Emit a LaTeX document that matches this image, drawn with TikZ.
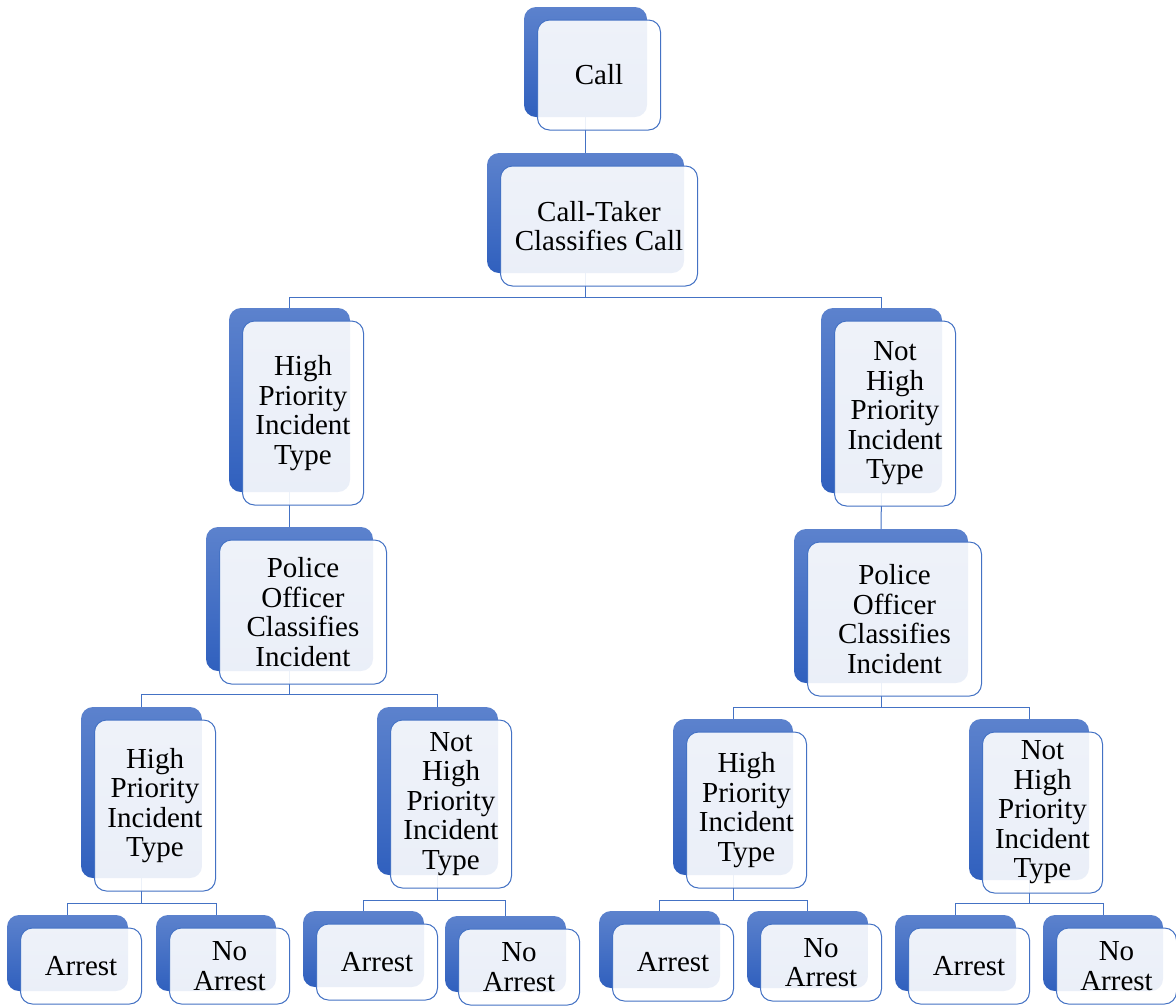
\documentclass[tikz,border=0pt]{standalone}
\usepackage{fontspec}
\setmainfont{Liberation Serif}
\usetikzlibrary{calc}
\definecolor{acc}{HTML}{4472C4}
\definecolor{gtop}{HTML}{5C82CD}
\definecolor{gbot}{HTML}{3060BE}
\tikzset{
  backbox/.style={rectangle, rounded corners=12pt, draw=none, top color=gtop, bottom color=gbot, inner sep=0pt},
  frontbox/.style={rectangle, rounded corners=12pt, draw=acc, line width=1pt, fill=white, fill opacity=0.9, text opacity=1, text=black, inner sep=0pt, align=center, font=\fontsize{29}{29.5}\selectfont},
  conn/.style={draw=acc, line width=1pt}
}
% \backnode{name}{cx}{cy}{w}{h}
\newcommand{\backnode}[5]{%
  \node[backbox, minimum width=#4pt, minimum height=#5pt] (b#1) at (#2,#3) {};%
}
% \frontnode{name}{w}{h}{text}
\newcommand{\frontnode}[4]{%
  \node[frontbox, minimum width=#2pt, minimum height=#3pt] (f#1) at ($(b#1.center)+(13.5,13)$) {#4};%
}
\begin{document}
\begin{tikzpicture}[x=1pt, y=-1pt]
\useasboundingbox (0,0) rectangle (1176,1005);
% back boxes
\backnode{call}{585.5}{62}{123}{110}
\backnode{ct}{585.5}{213}{197}{120}
\backnode{hl}{289.5}{400}{121}{184}
\backnode{nr}{881.5}{400.5}{121}{185}
\backnode{pl}{289.5}{599}{167}{144}
\backnode{pr}{881}{606}{174}{154}
\backnode{hll}{141.5}{792.5}{121}{171}
\backnode{nlr}{437.5}{791}{121}{168}
\backnode{hrl}{733}{797}{120}{156}
\backnode{nrr}{1029}{799.5}{120}{161}
\backnode{a1}{67.5}{953}{121}{76}
\backnode{n1}{216}{953}{120}{76}
\backnode{a2}{363.5}{949}{121}{76}
\backnode{n2}{505.5}{954}{121}{76}
\backnode{a3}{659.5}{949.5}{121}{77}
\backnode{n3}{807.5}{949.5}{121}{77}
\backnode{a4}{955.5}{953}{121}{76}
\backnode{n4}{1103}{953}{120}{76}
% connectors (behind the front boxes)
\begin{scope}[conn]
\draw (bcall.south) -- (bct.north);
\draw (bct.south) -- ++(0,24) -| (bhl.north);
\draw (bct.south) -- ++(0,24) -| (bnr.north);
\draw (bhl.south) -- (bpl.north);
\draw (bnr.south) -- (bpr.north);
\draw (bpl.south) -- ++(0,23) -| (bhll.north);
\draw (bpl.south) -- ++(0,23) -| (bnlr.north);
\draw (bpr.south) -- ++(0,24) -| (bhrl.north);
\draw (bpr.south) -- ++(0,24) -| (bnrr.north);
\draw (bhll.south) -- ++(0,25) -| (ba1.north);
\draw (bhll.south) -- ++(0,25) -| (bn1.north);
\draw (bnlr.south) -- ++(0,25) -| (ba2.north);
\draw (bnlr.south) -- ++(0,25) -| (bn2.north);
\draw (bhrl.south) -- ++(0,25) -| (ba3.north);
\draw (bhrl.south) -- ++(0,25) -| (bn3.north);
\draw (bnrr.south) -- ++(0,23) -| (ba4.north);
\draw (bnrr.south) -- ++(0,23) -| (bn4.north);
\end{scope}
% front boxes
\frontnode{call}{123}{110}{Call}
\frontnode{ct}{197}{120}{Call-Taker\\Classifies Call}
\frontnode{hl}{121}{184}{High\\Priority\\Incident\\Type}
\frontnode{nr}{121}{185}{Not\\High\\Priority\\Incident\\Type}
\frontnode{pl}{167}{144}{Police\\Officer\\Classifies\\Incident}
\frontnode{pr}{174}{154}{Police\\Officer\\Classifies\\Incident}
\frontnode{hll}{121}{171}{High\\Priority\\Incident\\Type}
\frontnode{nlr}{121}{168}{Not\\High\\Priority\\Incident\\Type}
\frontnode{hrl}{120}{156}{High\\Priority\\Incident\\Type}
\frontnode{nrr}{120}{161}{Not\\High\\Priority\\Incident\\Type}
\frontnode{a1}{121}{76}{Arrest}
\frontnode{n1}{120}{76}{No\\Arrest}
\frontnode{a2}{121}{76}{Arrest}
\frontnode{n2}{121}{76}{No\\Arrest}
\frontnode{a3}{121}{77}{Arrest}
\frontnode{n3}{121}{77}{No\\Arrest}
\frontnode{a4}{121}{76}{Arrest}
\frontnode{n4}{120}{76}{No\\Arrest}
\end{tikzpicture}
\end{document}
